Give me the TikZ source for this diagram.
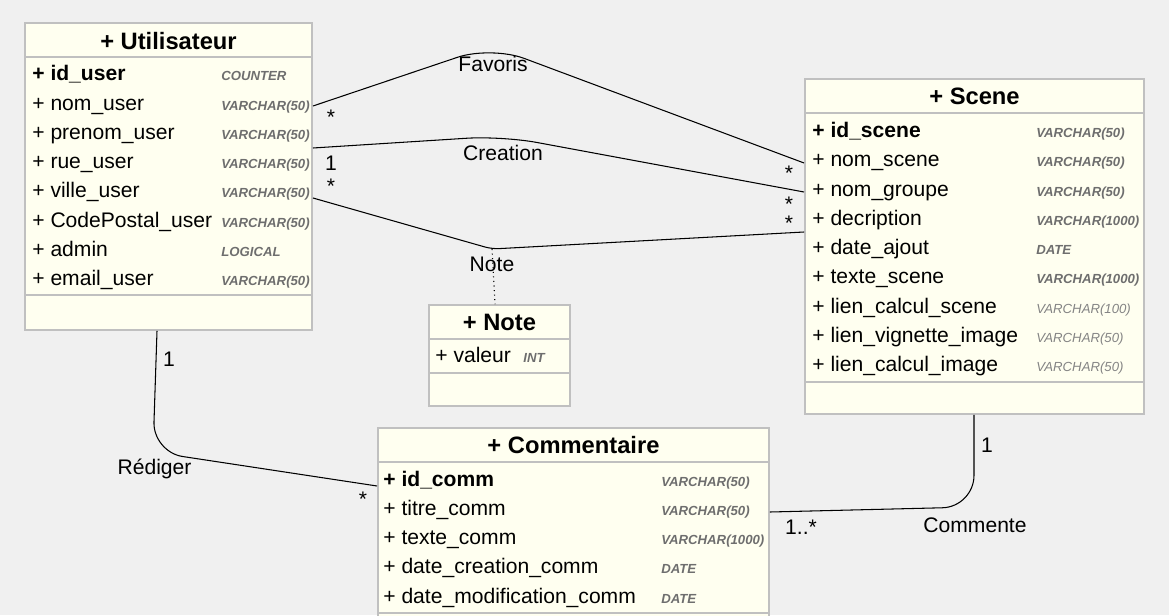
\documentclass[tikz,border=0pt]{standalone}
\usepackage{fontspec}
\setmainfont{Liberation Sans}
\usetikzlibrary{fit}
\definecolor{bg}{RGB}{240,240,240}
\definecolor{boxfill}{RGB}{255,255,240}
\definecolor{boxline}{RGB}{192,192,192}
\definecolor{typegrey}{RGB}{110,110,110}
\definecolor{typelight}{RGB}{132,132,132}
\tikzset{
  classbox/.style={draw=boxline, fill=boxfill, line width=1.1pt, inner sep=0pt},
  divider/.style={draw=boxline, line width=1.1pt},
  classtitle/.style={anchor=base, inner sep=0pt, font=\fontsize{13.5}{16}\selectfont\bfseries},
  attr/.style={anchor=base west, inner sep=0pt, font=\fontsize{12}{14}\selectfont},
  pkey/.style={attr, font=\fontsize{12}{14}\selectfont\bfseries},
  typeb/.style={anchor=base west, inner sep=0pt, text=typegrey, font=\fontsize{7.5}{9}\selectfont\bfseries\itshape},
  typel/.style={typeb, text=typelight, font=\fontsize{7.5}{9}\selectfont\itshape},
  assoc/.style={line width=0.6pt},
  lbl/.style={anchor=north, inner sep=0pt, font=\fontsize{12}{14}\selectfont},
}
\begin{document}
\begin{tikzpicture}[x=0.02cm, y=-0.02cm]
\useasboundingbox (0,0) rectangle (1169,615);
\clip (0,0) rectangle (1169,615);
\fill[bg] (0,0) rectangle (1169,615);

\node[classbox, fit={(25,23) (312,330)}] (util) {};
\node[classbox, fit={(805,79) (1144,414)}] (scene) {};
\node[classbox, fit={(378,428) (769,660)}] (comm) {};
\node[classbox, fit={(429,305) (570,406)}] (note) {};

\draw[divider] (util.west |- 0,57) -- (util.east |- 0,57);
\draw[divider] (util.west |- 0,295) -- (util.east |- 0,295);
\draw[divider] (scene.west |- 0,113) -- (scene.east |- 0,113);
\draw[divider] (scene.west |- 0,382) -- (scene.east |- 0,382);
\draw[divider] (comm.west |- 0,462) -- (comm.east |- 0,462);
\draw[divider] (comm.west |- 0,613) -- (comm.east |- 0,613);
\draw[divider] (note.west |- 0,339) -- (note.east |- 0,339);
\draw[divider] (note.west |- 0,373) -- (note.east |- 0,373);

\node[classtitle] (utiltitle) at (util.center |- 0,49.3) {+ Utilisateur};
\node[classtitle] (scenetitle) at (scene.center |- 0,104.3) {+ Scene};
\node[classtitle] (commtitle) at (comm.center |- 0,453) {+ Commentaire};
\node[classtitle] (notetitle) at (note.center |- 0,330) {+ Note};

\node[pkey] (u0) at (32,81) {+ id\_user};
\node[typeb] (ut0) at (221,81) {COUNTER};
\foreach \a/\t [count=\i] in {nom\_user/VARCHAR(50), prenom\_user/VARCHAR(50),
    rue\_user/VARCHAR(50), ville\_user/VARCHAR(50), CodePostal\_user/VARCHAR(50),
    admin/LOGICAL, email\_user/VARCHAR(50)} {
  \node[attr] (u\i) at (32,{81+29.2*\i}) {+ \a};
  \node[typeb] (ut\i) at (221,{81+29.2*\i}) {\t};
}

\node[pkey] (s0) at (812,137.7) {+ id\_scene};
\node[typeb] (st0) at (1036,137.7) {VARCHAR(50)};
\foreach \a/\t [count=\i] in {nom\_scene/VARCHAR(50), nom\_groupe/VARCHAR(50),
    decription/VARCHAR(1000), date\_ajout/DATE, texte\_scene/VARCHAR(1000)} {
  \node[attr] (s\i) at (812,{137.7+29.25*\i}) {+ \a};
  \node[typeb] (st\i) at (1036,{137.7+29.25*\i}) {\t};
}
\foreach \a/\t [count=\i from 6] in {lien\_calcul\_scene/VARCHAR(100),
    lien\_vignette\_image/VARCHAR(50), lien\_calcul\_image/VARCHAR(50)} {
  \node[attr] (s\i) at (812,{137.7+29.25*\i}) {+ \a};
  \node[typel] (st\i) at (1036,{137.7+29.25*\i}) {\t};
}

\node[pkey] (c0) at (383,486) {+ id\_comm};
\node[typeb] (ct0) at (661,486) {VARCHAR(50)};
\foreach \a/\t [count=\i] in {titre\_comm/VARCHAR(50), texte\_comm/VARCHAR(1000),
    date\_creation\_comm/DATE, date\_modification\_comm/DATE} {
  \node[attr] (c\i) at (383,{486+29.25*\i}) {+ \a};
  \node[typeb] (ct\i) at (661,{486+29.25*\i}) {\t};
}

\node[attr] (n1) at (435,362) {+ valeur};
\node[typeb] (nt1) at (523,362) {INT};

\coordinate (favmid) at (491,46);
\coordinate (creamid) at (502,136);
\coordinate (notemid) at (492,249);
\coordinate (redmid) at (153,452);
\coordinate (commid) at (974,507);

\draw[assoc, rounded corners=20pt] (util.east |- 0,106) -- (favmid) -- (scene.west |- 0,163);
\draw[assoc, rounded corners=20pt] (util.east |- 0,148) -- (creamid) -- (scene.west |- 0,192);
\draw[assoc, rounded corners=4pt] (util.east |- 0,198) -- (notemid) -- (scene.west |- 0,232);
\draw[assoc, dotted] (notemid) -- (note.north -| 495,0);
\draw[assoc, rounded corners=17pt] (util.south -| 157,0) -- (redmid) -- (comm.west |- 0,486);
\draw[assoc, rounded corners=18pt] (scene.south -| 974,0) -- (commid) -- (comm.east |- 0,512);

\node[lbl] (favlbl) at (493,56) {Favoris};
\node[lbl] (crealbl) at (503,145) {Creation};
\node[lbl] (notelbl) at (492,257) {Note};
\node[lbl] (redlbl) at (154.5,459) {Rédiger};
\node[lbl] (comlbl) at (975,517) {Commente};

\node[lbl] (favu) at (331,110) {*};
\node[lbl] (favs) at (789,166) {*};
\node[lbl] (creau) at (331,156) {1};
\node[lbl, align=center, font=\fontsize{12}{10.5}\selectfont] (creanotes) at (789,197) {*\\*};
\node[lbl] (noteu) at (331,179) {*};
\node[lbl] (redu) at (169,352) {1};
\node[lbl] (redc) at (363,492) {*};
\node[lbl] (coms) at (987,438) {1};
\node[lbl] (comc) at (801,520) {1..*};
\end{tikzpicture}
\end{document}
